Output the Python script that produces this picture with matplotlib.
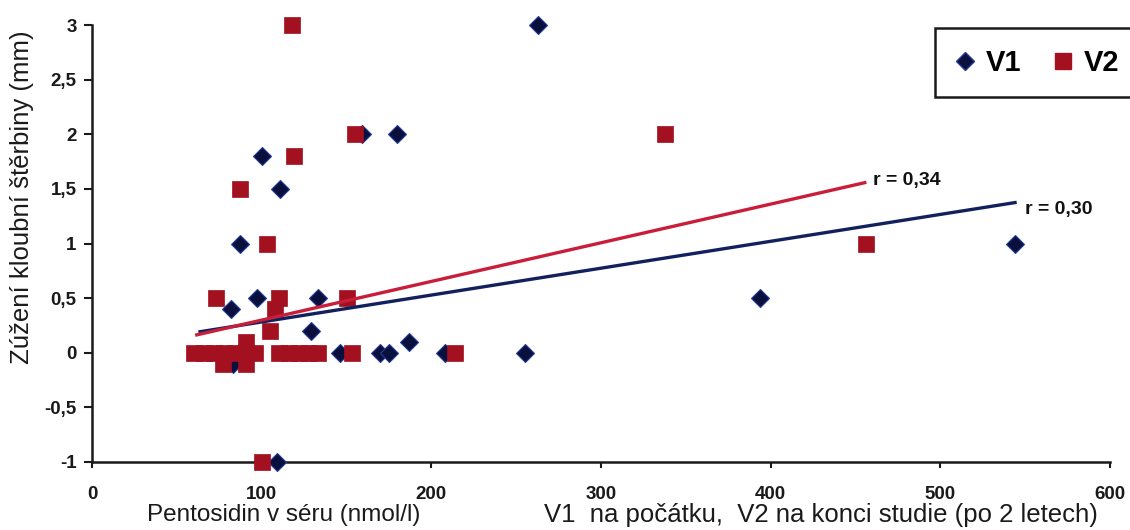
import matplotlib
matplotlib.use("Agg")
import matplotlib.pyplot as plt
from matplotlib.lines import Line2D
from matplotlib.patches import Rectangle

plt.rcParams['font.family'] = ['Liberation Sans', 'DejaVu Sans']

# ---- data ----
v1_x = [263, 100, 111, 87, 159, 180, 82, 97, 133, 129, 91, 83, 146, 170, 175, 187, 208, 255, 394, 544, 109]
v1_y = [3.0, 1.8, 1.5, 1.0, 2.0, 2.0, 0.4, 0.5, 0.5, 0.2, 0.0, -0.1, 0.0, 0.0, 0.0, 0.1, 0.0, 0.0, 0.5, 1.0, -1.0]

v2_x = [118, 119, 87, 103, 155, 338, 73, 110, 108, 105, 150, 91, 77, 91,
        60, 66, 72, 78, 84, 90, 96, 110, 116, 122, 128, 133, 153, 214, 456, 100]
v2_y = [3.0, 1.8, 1.5, 1.0, 2.0, 2.0, 0.5, 0.5, 0.4, 0.2, 0.5, 0.1, -0.1, -0.1,
        0.0, 0.0, 0.0, 0.0, 0.0, 0.0, 0.0, 0.0, 0.0, 0.0, 0.0, 0.0, 0.0, 0.0, 1.0, -1.0]

# trend lines: x range, slope, intercept
v1_fit_x = [62.7, 545.0]
v1_fit = (0.002461, 0.0357)
v2_fit_x = [60.8, 456.4]
v2_fit = (0.003539, -0.055)
v1_r = "r = 0,30"
v2_r = "r = 0,34"

x_ticks = [0, 100, 200, 300, 400, 500, 600]
x_ticklabels = ["0", "100", "200", "300", "400", "500", "600"]
y_ticks = [-1, -0.5, 0, 0.5, 1, 1.5, 2, 2.5, 3]
y_ticklabels = ["-1", "-0,5", "0", "0,5", "1", "1,5", "2", "2,5", "3"]

y_label = "Zúžení kloubní štěrbiny (mm)"
x_label = "Pentosidin v séru (nmol/l)"
x_note = "V1  na počátku,  V2 na konci studie (po 2 letech)"
series_names = ["V1", "V2"]

c_v1 = "#0b0f3c"
c_v1_edge = "#1f3a9a"
c_v2 = "#a3101f"
c_line1 = "#13205e"
c_line2 = "#c81e3a"

fig = plt.figure(figsize=(11.3, 5.3), dpi=100)
ax = fig.add_axes([92/1130, 1-462/530, (1110-92)/1130, (462-25)/530])

ax.plot(v1_x, v1_y, linestyle='none', marker='D', markersize=9.5,
        markerfacecolor=c_v1, markeredgecolor=c_v1_edge, markeredgewidth=0.8,
        zorder=3, clip_on=False)
ax.plot(v2_x, v2_y, linestyle='none', marker='s', markersize=11,
        markerfacecolor=c_v2, markeredgecolor=c_v2, markeredgewidth=0.5,
        zorder=4, clip_on=False)

def fit_line(xs, fit):
    return [fit[0]*x + fit[1] for x in xs]

ax.plot(v1_fit_x, fit_line(v1_fit_x, v1_fit), color=c_line1, lw=2.4, zorder=5, solid_capstyle='butt')
ax.plot(v2_fit_x, fit_line(v2_fit_x, v2_fit), color=c_line2, lw=2.4, zorder=5, solid_capstyle='butt')

ax.annotate(v2_r, xy=(v2_fit_x[1], fit_line(v2_fit_x, v2_fit)[1]), xytext=(5, 1),
            textcoords='offset points', va='center', ha='left', fontsize=14,
            fontweight='bold', color='#111111')
ax.annotate(v1_r, xy=(v1_fit_x[1], fit_line(v1_fit_x, v1_fit)[1]), xytext=(6, -5),
            textcoords='offset points', va='center', ha='left', fontsize=14,
            fontweight='bold', color='#111111')

ax.set_xlim(0, 600)
ax.set_ylim(-1, 3)
ax.set_xticks(x_ticks)
ax.set_xticklabels(x_ticklabels)
ax.set_yticks(y_ticks)
ax.set_yticklabels(y_ticklabels)

for s in ['top', 'right']:
    ax.spines[s].set_visible(False)
for s in ['left', 'bottom']:
    ax.spines[s].set_linewidth(1.8)
    ax.spines[s].set_color('#1a1a1a')

ax.tick_params(axis='y', direction='out', length=6, width=1.5, pad=5, labelsize=13.5, colors='#1a1a1a')
ax.tick_params(axis='x', direction='out', length=4, width=1.5, pad=13, labelsize=13.5, colors='#1a1a1a')
for lab in ax.get_xticklabels() + ax.get_yticklabels():
    lab.set_fontweight('bold')

fig.text(22/1130, 1-197/530, y_label, rotation=90, ha='center', va='center', fontsize=18.5, color='#1a1a1a')
fig.text(147/1130, 1-515/530, x_label, ha='left', va='center', fontsize=17.5, color='#1a1a1a')
fig.text(821/1130, 1-515/530, x_note, ha='center', va='center', fontsize=18.5, color='#1a1a1a')

# legend box running off the right edge, as in the reference
box = Rectangle((935/1130, 1-97/530), 220/1130, 69/530, transform=fig.transFigure,
                facecolor='white', edgecolor='#1a1a1a', linewidth=1.8, zorder=6, clip_on=False)
fig.patches.append(box)

handles = [Line2D([], [], linestyle='none', marker='D', markersize=9.5,
                  markerfacecolor=c_v1, markeredgecolor=c_v1_edge),
           Line2D([], [], linestyle='none', marker='s', markersize=11,
                  markerfacecolor=c_v2, markeredgecolor=c_v2)]
leg = fig.legend(handles, series_names, loc='center left', bbox_to_anchor=(952/1130, 1-63/530),
                 ncol=2, frameon=False, handletextpad=0.25, columnspacing=1.0,
                 handlelength=0.9, borderpad=0.0, borderaxespad=0.0,
                 prop={'weight': 'bold', 'size': 21})
leg.set_zorder(7)

fig.savefig("out.png", dpi=100)
